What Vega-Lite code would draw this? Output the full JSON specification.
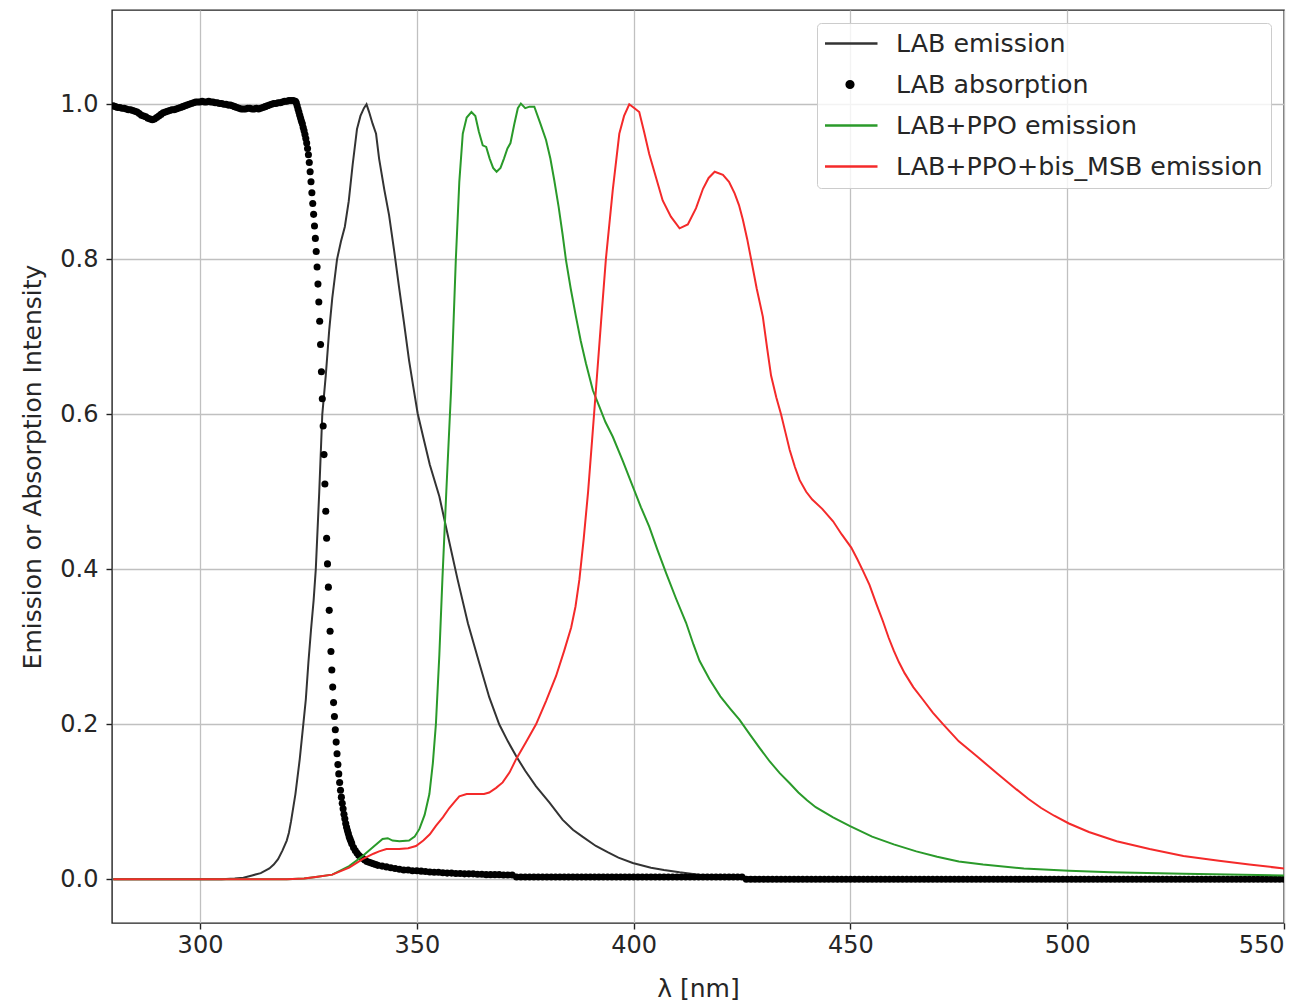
{
  "$schema": "https://vega.github.io/schema/vega-lite/v6.json",
  "autosize": {"type": "none"},
  "width": 1172,
  "height": 913,
  "padding": {"left": 112, "top": 10, "right": 28, "bottom": 80},
  "background": "white",
  "config": {
    "view": {"stroke": "#222222", "strokeWidth": 1.4},
    "axis": {
      "domain": false,
      "grid": true,
      "gridColor": "#c0c0c0",
      "gridWidth": 1.3,
      "tickColor": "#222222",
      "tickSize": 6,
      "tickWidth": 1.4,
      "labelFont": "DejaVu Sans",
      "labelFontSize": 24,
      "labelColor": "#262626",
      "titleFont": "DejaVu Sans",
      "titleFontSize": 25,
      "titleFontWeight": "normal",
      "titleColor": "#262626"
    }
  },
  "datasets": {
    "lab": [
      {"x":280,"y":0},{"x":290,"y":0},{"x":300,"y":0},{"x":305,"y":0},{"x":308,"y":0.001},{"x":310,"y":0.002},{"x":312,"y":0.005},{"x":314,"y":0.008},{"x":316,"y":0.014},{"x":317,"y":0.019},{"x":318,"y":0.026},{"x":319,"y":0.037},{"x":320,"y":0.05},{"x":320.5,"y":0.06},{"x":321,"y":0.075},{"x":322,"y":0.11},{"x":323,"y":0.155},{"x":324,"y":0.21},{"x":324.4,"y":0.232},{"x":325,"y":0.28},{"x":325.6,"y":0.322},{"x":326.2,"y":0.36},{"x":326.7,"y":0.4},{"x":327.5,"y":0.5},{"x":328.2,"y":0.6},{"x":329,"y":0.65},{"x":329.8,"y":0.709},{"x":330.5,"y":0.75},{"x":331.6,"y":0.8},{"x":332.5,"y":0.823},{"x":333.4,"y":0.842},{"x":334.3,"y":0.875},{"x":335.2,"y":0.922},{"x":336.2,"y":0.968},{"x":337,"y":0.985},{"x":337.8,"y":0.995},{"x":338.4,"y":1.0},{"x":339,"y":0.99},{"x":339.8,"y":0.975},{"x":340.6,"y":0.962},{"x":341.3,"y":0.93},{"x":342.5,"y":0.89},{"x":343.6,"y":0.857},{"x":344.8,"y":0.81},{"x":345.9,"y":0.764},{"x":347,"y":0.72},{"x":348.2,"y":0.67},{"x":349.2,"y":0.635},{"x":350.2,"y":0.601},{"x":351.5,"y":0.57},{"x":353,"y":0.535},{"x":355.2,"y":0.494},{"x":357.3,"y":0.44},{"x":359.4,"y":0.387},{"x":361.8,"y":0.33},{"x":364.4,"y":0.279},{"x":366.7,"y":0.235},{"x":369,"y":0.2},{"x":371,"y":0.178},{"x":372.9,"y":0.159},{"x":375,"y":0.14},{"x":377.5,"y":0.12},{"x":380.6,"y":0.099},{"x":383.6,"y":0.077},{"x":386,"y":0.064},{"x":388.2,"y":0.055},{"x":391.3,"y":0.043},{"x":394,"y":0.035},{"x":396.5,"y":0.028},{"x":399.8,"y":0.021},{"x":404,"y":0.015},{"x":407,"y":0.012},{"x":410.6,"y":0.009},{"x":415,"y":0.006},{"x":420,"y":0.004},{"x":430,"y":0.002},{"x":440,"y":0.001},{"x":450,"y":0},{"x":500,"y":0},{"x":550,"y":0}
    ],
    "ppo": [
      {"x":280,"y":0},{"x":300,"y":0},{"x":320,"y":0},{"x":324,"y":0.001},{"x":326.7,"y":0.003},{"x":330.5,"y":0.006},{"x":334.4,"y":0.017},{"x":337.5,"y":0.03},{"x":340,"y":0.042},{"x":342.1,"y":0.052},{"x":343.3,"y":0.053},{"x":344.4,"y":0.05},{"x":346,"y":0.049},{"x":348.2,"y":0.05},{"x":349.5,"y":0.055},{"x":350.6,"y":0.065},{"x":351.8,"y":0.083},{"x":352.9,"y":0.11},{"x":353.7,"y":0.15},{"x":354.4,"y":0.2},{"x":355.2,"y":0.29},{"x":355.9,"y":0.387},{"x":356.8,"y":0.5},{"x":357.9,"y":0.631},{"x":359,"y":0.8},{"x":359.8,"y":0.9},{"x":360.6,"y":0.962},{"x":361.5,"y":0.983},{"x":362.6,"y":0.99},{"x":363.5,"y":0.985},{"x":364.3,"y":0.965},{"x":365.2,"y":0.947},{"x":366,"y":0.945},{"x":366.8,"y":0.93},{"x":367.6,"y":0.918},{"x":368.4,"y":0.913},{"x":369.3,"y":0.918},{"x":370.1,"y":0.93},{"x":370.9,"y":0.943},{"x":371.6,"y":0.95},{"x":372.5,"y":0.975},{"x":373.3,"y":0.995},{"x":374,"y":1.001},{"x":375,"y":0.995},{"x":376,"y":0.997},{"x":377.1,"y":0.997},{"x":378.5,"y":0.975},{"x":379.8,"y":0.954},{"x":380.8,"y":0.93},{"x":381.7,"y":0.902},{"x":382.7,"y":0.868},{"x":383.6,"y":0.833},{"x":384.4,"y":0.799},{"x":385.5,"y":0.762},{"x":386.7,"y":0.726},{"x":387.8,"y":0.695},{"x":389,"y":0.666},{"x":390.6,"y":0.631},{"x":392.1,"y":0.61},{"x":393.5,"y":0.59},{"x":395.2,"y":0.571},{"x":397.5,"y":0.54},{"x":399.8,"y":0.507},{"x":401.7,"y":0.48},{"x":403.6,"y":0.455},{"x":405.5,"y":0.425},{"x":407.5,"y":0.395},{"x":409.8,"y":0.362},{"x":412.1,"y":0.331},{"x":413.8,"y":0.303},{"x":415.2,"y":0.282},{"x":417.5,"y":0.258},{"x":420,"y":0.236},{"x":422.3,"y":0.22},{"x":424.4,"y":0.206},{"x":426.8,"y":0.187},{"x":429,"y":0.17},{"x":431.4,"y":0.152},{"x":433.7,"y":0.137},{"x":436,"y":0.124},{"x":438,"y":0.112},{"x":440,"y":0.102},{"x":442,"y":0.093},{"x":446,"y":0.08},{"x":449.8,"y":0.069},{"x":455,"y":0.055},{"x":460,"y":0.045},{"x":465.2,"y":0.036},{"x":470,"y":0.029},{"x":475,"y":0.023},{"x":480.6,"y":0.019},{"x":490,"y":0.014},{"x":500.4,"y":0.011},{"x":510,"y":0.009},{"x":526.8,"y":0.007},{"x":550,"y":0.005}
    ],
    "msb": [
      {"x":280,"y":0},{"x":300,"y":0},{"x":320,"y":0},{"x":324,"y":0.001},{"x":326.7,"y":0.003},{"x":330.5,"y":0.006},{"x":334.4,"y":0.015},{"x":337.5,"y":0.026},{"x":340,"y":0.033},{"x":341.3,"y":0.036},{"x":343,"y":0.039},{"x":345.9,"y":0.039},{"x":348,"y":0.04},{"x":349.8,"y":0.043},{"x":351.5,"y":0.05},{"x":353,"y":0.058},{"x":354.4,"y":0.069},{"x":356,"y":0.08},{"x":357.5,"y":0.092},{"x":358.7,"y":0.1},{"x":359.8,"y":0.107},{"x":361.5,"y":0.11},{"x":363.5,"y":0.11},{"x":365.5,"y":0.11},{"x":366.7,"y":0.112},{"x":368.3,"y":0.118},{"x":369.8,"y":0.125},{"x":371.4,"y":0.138},{"x":372.9,"y":0.155},{"x":375.2,"y":0.177},{"x":377.5,"y":0.2},{"x":379.8,"y":0.23},{"x":382.1,"y":0.262},{"x":384,"y":0.295},{"x":385.6,"y":0.325},{"x":386.6,"y":0.352},{"x":387.5,"y":0.387},{"x":388.5,"y":0.44},{"x":389.5,"y":0.5},{"x":390.4,"y":0.565},{"x":391.3,"y":0.631},{"x":392.5,"y":0.72},{"x":393.6,"y":0.8},{"x":395.2,"y":0.89},{"x":396.7,"y":0.962},{"x":397.8,"y":0.985},{"x":399,"y":1.0},{"x":400.2,"y":0.995},{"x":401.3,"y":0.99},{"x":402.4,"y":0.965},{"x":403.6,"y":0.936},{"x":405.2,"y":0.905},{"x":406.7,"y":0.876},{"x":408.6,"y":0.855},{"x":410.6,"y":0.84},{"x":412.5,"y":0.845},{"x":414.4,"y":0.866},{"x":416,"y":0.891},{"x":417.3,"y":0.905},{"x":418.7,"y":0.913},{"x":420.6,"y":0.909},{"x":422,"y":0.9},{"x":423.3,"y":0.885},{"x":424.3,"y":0.87},{"x":425.2,"y":0.851},{"x":426.2,"y":0.826},{"x":427.1,"y":0.8},{"x":428.4,"y":0.762},{"x":429.8,"y":0.726},{"x":430.8,"y":0.685},{"x":431.7,"y":0.65},{"x":432.9,"y":0.622},{"x":434,"y":0.6},{"x":435,"y":0.577},{"x":436,"y":0.554},{"x":437.2,"y":0.532},{"x":438.3,"y":0.515},{"x":439.8,"y":0.5},{"x":441.2,"y":0.49},{"x":443.5,"y":0.478},{"x":446,"y":0.462},{"x":448,"y":0.445},{"x":450.2,"y":0.428},{"x":451.6,"y":0.413},{"x":452.9,"y":0.398},{"x":454.4,"y":0.38},{"x":456,"y":0.355},{"x":457.5,"y":0.333},{"x":458.8,"y":0.312},{"x":460,"y":0.295},{"x":461.2,"y":0.28},{"x":462.5,"y":0.266},{"x":464.5,"y":0.248},{"x":466.7,"y":0.232},{"x":469,"y":0.215},{"x":471.4,"y":0.2},{"x":475,"y":0.178},{"x":479.1,"y":0.159},{"x":484,"y":0.136},{"x":488.3,"y":0.116},{"x":491,"y":0.104},{"x":494,"y":0.092},{"x":497,"y":0.082},{"x":500.4,"y":0.072},{"x":505,"y":0.061},{"x":511.4,"y":0.049},{"x":519,"y":0.039},{"x":526.8,"y":0.03},{"x":535,"y":0.024},{"x":542,"y":0.019},{"x":550,"y":0.014}
    ],
    "abs": [
      {"x":280,"y":0.998},{"x":280.5,"y":0.997},{"x":281,"y":0.996},{"x":281.5,"y":0.996},{"x":282,"y":0.995},{"x":282.5,"y":0.995},{"x":283,"y":0.994},{"x":283.5,"y":0.993},{"x":284,"y":0.993},{"x":284.5,"y":0.992},{"x":285,"y":0.991},{"x":285.5,"y":0.99},{"x":286,"y":0.988},{"x":286.5,"y":0.986},{"x":287,"y":0.985},{"x":287.5,"y":0.984},{"x":288,"y":0.982},{"x":288.5,"y":0.981},{"x":289,"y":0.98},{"x":289.5,"y":0.981},{"x":290,"y":0.983},{"x":290.5,"y":0.985},{"x":291,"y":0.987},{"x":291.5,"y":0.989},{"x":292,"y":0.99},{"x":292.5,"y":0.991},{"x":293,"y":0.992},{"x":293.5,"y":0.993},{"x":294,"y":0.993},{"x":294.5,"y":0.994},{"x":295,"y":0.995},{"x":295.5,"y":0.996},{"x":296,"y":0.997},{"x":296.5,"y":0.998},{"x":297,"y":0.999},{"x":297.5,"y":1.0},{"x":298,"y":1.001},{"x":298.5,"y":1.002},{"x":299,"y":1.003},{"x":299.5,"y":1.003},{"x":300,"y":1.003},{"x":300.5,"y":1.004},{"x":301,"y":1.003},{"x":301.5,"y":1.003},{"x":302,"y":1.004},{"x":302.5,"y":1.003},{"x":303,"y":1.003},{"x":303.5,"y":1.002},{"x":304,"y":1.002},{"x":304.5,"y":1.001},{"x":305,"y":1.001},{"x":305.5,"y":1.0},{"x":306,"y":1.0},{"x":306.5,"y":0.999},{"x":307,"y":0.999},{"x":307.5,"y":0.998},{"x":308,"y":0.997},{"x":308.5,"y":0.996},{"x":309,"y":0.995},{"x":309.5,"y":0.994},{"x":310,"y":0.994},{"x":310.5,"y":0.994},{"x":311,"y":0.995},{"x":311.5,"y":0.995},{"x":312,"y":0.994},{"x":312.5,"y":0.994},{"x":313,"y":0.995},{"x":313.5,"y":0.994},{"x":314,"y":0.995},{"x":314.5,"y":0.996},{"x":315,"y":0.997},{"x":315.5,"y":0.998},{"x":316,"y":0.999},{"x":316.5,"y":1.0},{"x":317,"y":1.001},{"x":317.5,"y":1.001},{"x":318,"y":1.002},{"x":318.5,"y":1.002},{"x":319,"y":1.003},{"x":319.5,"y":1.004},{"x":320,"y":1.004},{"x":320.5,"y":1.005},{"x":321,"y":1.005},{"x":321.5,"y":1.005},
      {"x":322.0,"y":1.004},{"x":322.2,"y":1.002},{"x":322.4,"y":0.998},{"x":322.6,"y":0.994},{"x":322.8,"y":0.99},{"x":323.0,"y":0.986},{"x":323.2,"y":0.982},{"x":323.4,"y":0.978},{"x":323.6,"y":0.975},{"x":323.8,"y":0.97},{"x":324.0,"y":0.966},{"x":324.2,"y":0.961},{"x":324.4,"y":0.956},{"x":324.6,"y":0.95},{"x":324.8,"y":0.943},{"x":325.0,"y":0.935},{"x":325.2,"y":0.925},{"x":325.4,"y":0.913},{"x":325.6,"y":0.9},{"x":325.8,"y":0.886},{"x":326.0,"y":0.872},{"x":326.2,"y":0.858},{"x":326.4,"y":0.843},{"x":326.6,"y":0.827},{"x":326.8,"y":0.81},{"x":327.0,"y":0.79},{"x":327.2,"y":0.768},{"x":327.4,"y":0.745},{"x":327.6,"y":0.72},{"x":327.8,"y":0.69},{"x":328.0,"y":0.655},{"x":328.2,"y":0.62},{"x":328.4,"y":0.585},{"x":328.6,"y":0.548},{"x":328.8,"y":0.51},{"x":329.0,"y":0.475},{"x":329.2,"y":0.44},{"x":329.4,"y":0.407},{"x":329.6,"y":0.377},{"x":329.8,"y":0.347},{"x":330.0,"y":0.32},{"x":330.2,"y":0.294},{"x":330.4,"y":0.27},{"x":330.6,"y":0.248},{"x":330.8,"y":0.228},{"x":331.0,"y":0.21},{"x":331.2,"y":0.193},{"x":331.4,"y":0.177},{"x":331.6,"y":0.162},{"x":331.8,"y":0.148},{"x":332.0,"y":0.136},{"x":332.2,"y":0.125},{"x":332.4,"y":0.115},{"x":332.6,"y":0.106},{"x":332.8,"y":0.098},{"x":333.0,"y":0.091},{"x":333.2,"y":0.084},{"x":333.4,"y":0.078},{"x":333.6,"y":0.072},{"x":333.8,"y":0.067},{"x":334.0,"y":0.063},{"x":334.2,"y":0.059},{"x":334.4,"y":0.055},{"x":334.6,"y":0.052},{"x":334.8,"y":0.049},{"x":335.0,"y":0.046},{"x":335.4,"y":0.041},{"x":335.8,"y":0.037},{"x":336.2,"y":0.034},{"x":336.6,"y":0.031},{"x":337.0,"y":0.029},{"x":337.5,"y":0.027},{"x":338.0,"y":0.025},{"x":338.5,"y":0.023},{"x":339.0,"y":0.022},{"x":339.5,"y":0.021},{"x":340.0,"y":0.02},{"x":340.5,"y":0.019},{"x":341,"y":0.018},{"x":342,"y":0.017},{"x":343,"y":0.016},{"x":344,"y":0.015},{"x":345,"y":0.014},{"x":346,"y":0.013},{"x":347,"y":0.012},{"x":348,"y":0.012},{"x":349,"y":0.011},{"x":350,"y":0.011},
      {"x":351,"y":0.0105},{"x":352,"y":0.01},{"x":353,"y":0.0095},{"x":354,"y":0.009},{"x":355,"y":0.009},{"x":356,"y":0.0085},{"x":357,"y":0.008},{"x":358,"y":0.008},{"x":359,"y":0.0075},{"x":360,"y":0.0075},{"x":361,"y":0.007},{"x":362,"y":0.007},{"x":363,"y":0.007},{"x":364,"y":0.0065},{"x":365,"y":0.0065},{"x":366,"y":0.006},{"x":367,"y":0.006},{"x":368,"y":0.006},{"x":369,"y":0.006},{"x":370,"y":0.0055},{"x":371,"y":0.0055},{"x":372,"y":0.0055},
      {"x":373,"y":0.003},{"x":374,"y":0.003},{"x":375,"y":0.003},{"x":376,"y":0.003},{"x":377,"y":0.003},{"x":378,"y":0.003},{"x":379,"y":0.003},{"x":380,"y":0.003},{"x":381,"y":0.003},{"x":382,"y":0.003},{"x":383,"y":0.003},{"x":384,"y":0.003},{"x":385,"y":0.003},{"x":386,"y":0.003},{"x":387,"y":0.003},{"x":388,"y":0.003},{"x":389,"y":0.003},{"x":390,"y":0.003},{"x":391,"y":0.003},{"x":392,"y":0.003},{"x":393,"y":0.003},{"x":394,"y":0.003},{"x":395,"y":0.003},{"x":396,"y":0.003},{"x":397,"y":0.003},{"x":398,"y":0.003},{"x":399,"y":0.003},{"x":400,"y":0.003},{"x":401,"y":0.003},{"x":402,"y":0.003},{"x":403,"y":0.003},{"x":404,"y":0.003},{"x":405,"y":0.003},{"x":406,"y":0.003},{"x":407,"y":0.003},{"x":408,"y":0.003},{"x":409,"y":0.003},{"x":410,"y":0.003},{"x":411,"y":0.003},{"x":412,"y":0.003},{"x":413,"y":0.003},{"x":414,"y":0.003},{"x":415,"y":0.003},{"x":416,"y":0.003},{"x":417,"y":0.003},{"x":418,"y":0.003},{"x":419,"y":0.003},{"x":420,"y":0.003},{"x":421,"y":0.003},{"x":422,"y":0.003},{"x":423,"y":0.003},{"x":424,"y":0.003},{"x":425,"y":0.003},
      {"x":426,"y":0},{"x":427,"y":0},{"x":428,"y":0},{"x":429,"y":0},{"x":430,"y":0},{"x":431,"y":0},{"x":432,"y":0},{"x":433,"y":0},{"x":434,"y":0},{"x":435,"y":0},{"x":436,"y":0},{"x":437,"y":0},{"x":438,"y":0},{"x":439,"y":0},{"x":440,"y":0},{"x":441,"y":0},{"x":442,"y":0},{"x":443,"y":0},{"x":444,"y":0},{"x":445,"y":0},{"x":446,"y":0},{"x":447,"y":0},{"x":448,"y":0},{"x":449,"y":0},{"x":450,"y":0},{"x":451,"y":0},{"x":452,"y":0},{"x":453,"y":0},{"x":454,"y":0},{"x":455,"y":0},{"x":456,"y":0},{"x":457,"y":0},{"x":458,"y":0},{"x":459,"y":0},{"x":460,"y":0},{"x":461,"y":0},{"x":462,"y":0},{"x":463,"y":0},{"x":464,"y":0},{"x":465,"y":0},{"x":466,"y":0},{"x":467,"y":0},{"x":468,"y":0},{"x":469,"y":0},{"x":470,"y":0},{"x":471,"y":0},{"x":472,"y":0},{"x":473,"y":0},{"x":474,"y":0},{"x":475,"y":0},{"x":476,"y":0},{"x":477,"y":0},{"x":478,"y":0},{"x":479,"y":0},{"x":480,"y":0},{"x":481,"y":0},{"x":482,"y":0},{"x":483,"y":0},{"x":484,"y":0},{"x":485,"y":0},{"x":486,"y":0},{"x":487,"y":0},{"x":488,"y":0},{"x":489,"y":0},{"x":490,"y":0},{"x":491,"y":0},{"x":492,"y":0},{"x":493,"y":0},{"x":494,"y":0},{"x":495,"y":0},{"x":496,"y":0},{"x":497,"y":0},{"x":498,"y":0},{"x":499,"y":0},{"x":500,"y":0},{"x":501,"y":0},{"x":502,"y":0},{"x":503,"y":0},{"x":504,"y":0},{"x":505,"y":0},{"x":506,"y":0},{"x":507,"y":0},{"x":508,"y":0},{"x":509,"y":0},{"x":510,"y":0},{"x":511,"y":0},{"x":512,"y":0},{"x":513,"y":0},{"x":514,"y":0},{"x":515,"y":0},{"x":516,"y":0},{"x":517,"y":0},{"x":518,"y":0},{"x":519,"y":0},{"x":520,"y":0},{"x":521,"y":0},{"x":522,"y":0},{"x":523,"y":0},{"x":524,"y":0},{"x":525,"y":0},{"x":526,"y":0},{"x":527,"y":0},{"x":528,"y":0},{"x":529,"y":0},{"x":530,"y":0},{"x":531,"y":0},{"x":532,"y":0},{"x":533,"y":0},{"x":534,"y":0},{"x":535,"y":0},{"x":536,"y":0},{"x":537,"y":0},{"x":538,"y":0},{"x":539,"y":0},{"x":540,"y":0},{"x":541,"y":0},{"x":542,"y":0},{"x":543,"y":0},{"x":544,"y":0},{"x":545,"y":0},{"x":546,"y":0},{"x":547,"y":0},{"x":548,"y":0},{"x":549,"y":0},{"x":550,"y":0}
    ]
  },
  "encoding": {
    "x": {
      "field": "x", "type": "quantitative",
      "scale": {"domain": [279.7, 550], "nice": false, "zero": false},
      "axis": {"title": "λ [nm]", "values": [300, 350, 400, 450, 500, 550], "format": "d", "labelPadding": 4, "titlePadding": 19}
    },
    "y": {
      "field": "y", "type": "quantitative",
      "scale": {"domain": [-0.0564, 1.1217], "nice": false, "zero": false},
      "axis": {"title": "Emission or Absorption Intensity", "values": [0, 0.2, 0.4, 0.6, 0.8, 1.0], "format": ".1f", "labelPadding": 8, "titlePadding": 14}
    }
  },
  "layer": [
    {
      "data": {"name": "lab"},
      "mark": {"type": "line", "strokeWidth": 2, "clip": true},
      "encoding": {
        "color": {
          "datum": "LAB emission", "type": "nominal",
          "scale": {"domain": ["LAB emission", "LAB absorption", "LAB+PPO emission", "LAB+PPO+bis_MSB emission"], "range": ["#333333", "#000000", "#2a9a2a", "#f42a2a"]},
          "legend": {
            "title": null, "orient": "none", "legendX": 705, "legendY": 13,
            "symbolType": "stroke", "symbolSize": 3025, "symbolStrokeWidth": 2.5, "symbolOffset": -4,
            "labelFont": "DejaVu Sans", "labelFontSize": 25.3, "labelColor": "#262626", "labelLimit": 800,
            "padding": 8, "rowPadding": 15, "labelOffset": 17, "clipHeight": 25,
            "fillColor": "rgba(255,255,255,0.8)", "strokeColor": "#cccccc", "cornerRadius": 4,
            "encode": {"symbols": {"update": {
              "shape": {"signal": "datum.value === 'LAB absorption' ? 'circle' : 'stroke'"},
              "size": {"signal": "datum.value === 'LAB absorption' ? 45 : 3025"},
              "fill": {"signal": "datum.value === 'LAB absorption' ? '#000000' : 'transparent'"},
              "stroke": {"signal": "datum.value === 'LAB absorption' ? 'transparent' : scale('color', datum.value)"},
              "strokeWidth": {"value": 2.5},
              "opacity": {"value": 1}
            }}}
          }
        }
      }
    },
    {
      "data": {"name": "abs"},
      "mark": {"type": "point", "filled": true, "shape": "circle", "size": 50, "opacity": 1, "clip": true},
      "encoding": {"color": {"datum": "LAB absorption", "type": "nominal"}}
    },
    {
      "data": {"name": "ppo"},
      "mark": {"type": "line", "strokeWidth": 2, "clip": true},
      "encoding": {"color": {"datum": "LAB+PPO emission", "type": "nominal"}}
    },
    {
      "data": {"name": "msb"},
      "mark": {"type": "line", "strokeWidth": 2, "clip": true},
      "encoding": {"color": {"datum": "LAB+PPO+bis_MSB emission", "type": "nominal"}}
    }
  ]
}
